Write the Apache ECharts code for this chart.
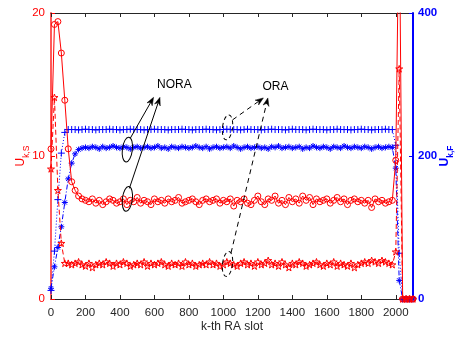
<!DOCTYPE html>
<html>
<head>
<meta charset="utf-8">
<script src="https://cdn.jsdelivr.net/npm/echarts@6/dist/echarts.min.js"></script>
<style>
  html, body { margin: 0; padding: 0; background: #fff; }
  #chart { width: 459px; height: 337px; }
</style>
</head>
<body>
<div id="chart"></div>
<script>
// RA slot index (x axis)
const slots = [0,20,40,60,80,100,120,140,160,180,200,220,240,260,280,300,320,340,360,380,
  400,420,440,460,480,500,520,540,560,580,600,620,640,660,680,700,720,740,760,780,
  800,820,840,860,880,900,920,940,960,980,1000,1020,1040,1060,1080,1100,1120,1140,1160,1180,
  1200,1220,1240,1260,1280,1300,1320,1340,1360,1380,1400,1420,1440,1460,1480,1500,1520,1540,1560,1580,
  1600,1620,1640,1660,1680,1700,1720,1740,1760,1780,1800,1820,1840,1860,1880,1900,1920,1940,1960,1980,
  2000,2020,2040,2060,2080,2100];

// U_k,S under NORA (circles, left axis)
const noraS = [10.5,19.2,19.4,17.2,13.9,10.5,8.2,7.6,7.2,7.0,
  6.9,6.8,7.0,6.7,6.9,6.6,6.8,7.0,6.9,6.7,
  6.8,7.0,6.6,6.9,6.8,7.1,6.7,6.9,6.8,6.6,
  7.0,6.8,6.9,6.7,7.0,6.8,6.9,7.1,6.7,6.8,
  6.9,7.0,6.8,6.6,6.9,7.0,6.8,6.9,7.0,6.7,
  6.9,6.8,7.0,6.5,6.9,6.8,7.0,6.7,6.6,6.9,
  7.2,6.8,6.6,7.0,6.9,7.2,6.7,6.9,6.6,7.1,
  6.8,7.0,6.7,7.2,6.9,7.1,6.6,7.0,6.8,6.9,
  7.0,6.7,6.9,7.1,6.8,7.0,6.6,6.9,7.0,6.8,
  6.9,6.7,6.9,6.4,7.0,6.8,6.9,6.7,6.8,6.9,
  9.7,28,0,0,0,0];

// U_k,S under ORA (pentagrams, left axis)
const oraS = [9.1,14.1,7.6,3.9,2.5,
  2.5,2.4,2.5,2.6,2.4,2.3,2.5,2.2,2.4,2.5,
  2.4,2.6,2.5,2.3,2.5,2.4,2.6,2.5,2.3,2.4,
  2.5,2.4,2.6,2.3,2.5,2.4,2.5,2.6,2.4,2.3,
  2.5,2.4,2.5,2.3,2.6,2.4,2.5,2.3,2.4,2.5,
  2.4,2.6,2.4,2.5,2.3,2.4,2.6,2.5,2.4,2.3,
  2.5,2.6,2.4,2.5,2.3,2.6,2.4,2.5,2.7,2.4,
  2.5,2.3,2.6,2.4,2.2,2.5,2.4,2.6,2.5,2.3,
  2.4,2.5,2.6,2.4,2.3,2.5,2.4,2.6,2.3,2.5,
  2.4,2.3,2.5,2.2,2.4,2.5,2.6,2.5,2.7,2.6,
  2.5,2.7,2.6,2.5,2.4,
  3.3,16.1,0,0,0,0];

// U_k,F under ORA (plus markers, right axis)
const oraF = [12,67,139,204,233,237,
  237,237,236.5,237,237.5,237,237,236.5,237,237,
  237,237.5,237,237,236.5,237,237,237.5,237,237,
  237,236.5,237,237,237.5,237,237,237,236.5,237,
  237,237,237.5,237,237,236.5,237,237,237,237.5,
  237,237,236.5,237,237,237.5,237,237,237,236.5,
  237,237.5,237,237,237,236.5,237,237,237.5,237,
  237,237,236.5,237,237.5,237,237,237,236.5,237,
  237.5,237,237,237,236.5,237,237,237.5,237,237,
  237,236.5,237,237,237.5,237,237,236.5,237,237,
  237,237.5,237,237,
  215,64,0,0,0,0];

// U_k,F under NORA (asterisks, right axis)
const noraF = [15,45,72,101,135,168,190,203,209,211,
  212,211,213,212,210,213,211,212,214,212,
  211,213,212,210,212,213,211,212,213,211,
  212,214,211,212,210,213,212,211,213,212,
  211,212,214,212,211,213,210,212,213,211,
  212,213,211,214,212,210,212,213,211,212,
  213,211,212,210,213,212,214,211,212,213,
  211,212,213,210,212,211,214,212,211,213,
  212,210,213,212,211,214,212,211,213,212,
  211,213,212,210,212,213,211,212,213,212,
  183,26,0,0,0,0];

const xTicks = [0,200,400,600,800,1000,1200,1400,1600,1800,2000];
const leftTicks = [0,10,20];
const rightTicks = [0,200,400];

const RED = '#ff0000';
const BLUE = '#0000ff';
const INK = '#262626';
const FONT = 'Liberation Sans, Arial, Helvetica, sans-serif';

const pairs = (ys) => slots.map((x, i) => [x, ys[i]]);
const plain = (v) => String(v);

const STAR = 'path://M5,0.3L6.123,3.755L9.755,3.755L6.817,5.89L7.939,9.345L5,7.21L2.061,9.345L3.183,5.89L0.245,3.755L3.877,3.755Z';
const PLUS = 'path://M5,0L5,10M0,5L10,5';
const ASTER = 'path://M5,0L5,10M0,5L10,5M1.5,1.5L8.5,8.5M8.5,1.5L1.5,8.5';

const chart = echarts.init(document.getElementById('chart'), null, { renderer: 'canvas' });

function markerStyle(color) {
  return { color: 'rgba(0,0,0,0)', borderColor: color, borderWidth: 1 };
}

const option = {
  animation: false,
  backgroundColor: '#fff',
  textStyle: { fontFamily: FONT },
  grid: { left: 51, right: 46, top: 13, bottom: 38, outerBoundsMode: 'none' },
  xAxis: [
    {
      type: 'value', position: 'bottom', min: 0, max: 2100, interval: 200,
      name: 'k-th RA slot', nameLocation: 'middle', nameGap: 22, nameMoveOverlap: false,
      nameTextStyle: { fontSize: 12, color: INK, fontFamily: FONT },
      axisLine: { show: true, onZero: false, lineStyle: { color: INK, width: 1 } },
      axisTick: { show: true, inside: true, length: 4, lineStyle: { color: INK }, customValues: xTicks },
      axisLabel: { show: true, fontSize: 11.5, color: INK, margin: 8, fontFamily: FONT, customValues: xTicks, formatter: plain },
      splitLine: { show: false }
    },
    {
      type: 'value', position: 'top', min: 0, max: 2100, interval: 200,
      axisLine: { show: true, onZero: false, lineStyle: { color: INK, width: 1 } },
      axisTick: { show: true, inside: true, length: 4, lineStyle: { color: INK }, customValues: xTicks },
      axisLabel: { show: false },
      splitLine: { show: false }
    }
  ],
  yAxis: [
    {
      type: 'value', position: 'left', min: 0, max: 20, interval: 10,
      name: '{u|U}{s|k,S}', nameLocation: 'middle', nameRotate: 90, nameGap: 20, nameMoveOverlap: false,
      nameTextStyle: {
        rich: {
          u: { fontSize: 12, color: RED, fontFamily: FONT, lineHeight: 12, padding: [0, 0, 8, 0] },
          s: { fontSize: 8.5, color: RED, fontFamily: FONT, lineHeight: 8, verticalAlign: 'bottom' }
        }
      },
      axisLine: { show: true, onZero: false, lineStyle: { color: '#ff5a5a', width: 2 } },
      axisTick: { show: true, inside: true, length: 4, lineStyle: { color: RED }, customValues: leftTicks },
      axisLabel: { show: true, fontSize: 11.5, color: RED, margin: 6, fontFamily: FONT, customValues: leftTicks, formatter: plain },
      splitLine: { show: false }
    },
    {
      type: 'value', position: 'right', min: 0, max: 400, interval: 200,
      name: '{u|U}{s|k,F}', nameLocation: 'middle', nameRotate: 90, nameGap: 30, nameMoveOverlap: false,
      nameTextStyle: {
        rich: {
          u: { fontSize: 12, color: BLUE, fontWeight: 'bold', fontFamily: FONT, lineHeight: 12, padding: [0, 0, 8, 0] },
          s: { fontSize: 8.5, color: BLUE, fontWeight: 'bold', fontFamily: FONT, lineHeight: 8, verticalAlign: 'bottom' }
        }
      },
      axisLine: { show: true, onZero: false, lineStyle: { color: BLUE, width: 2 } },
      axisTick: { show: true, inside: true, length: 4, lineStyle: { color: BLUE }, customValues: rightTicks },
      axisLabel: { show: true, fontSize: 11.5, color: BLUE, fontWeight: 'bold', margin: 5, fontFamily: FONT, customValues: rightTicks, formatter: plain },
      splitLine: { show: false }
    }
  ],
  series: [
    {
      name: 'NORA U_k,S', type: 'line', xAxisIndex: 0, yAxisIndex: 0,
      data: pairs(noraS), showAllSymbol: true, symbol: 'circle', symbolSize: 6,
      itemStyle: markerStyle(RED),
      lineStyle: { color: RED, width: 1 }, clip: true, z: 3
    },
    {
      name: 'ORA U_k,S', type: 'line', xAxisIndex: 0, yAxisIndex: 0,
      data: pairs(oraS), showAllSymbol: true, symbol: STAR, symbolSize: 7, symbolKeepAspect: true,
      itemStyle: markerStyle(RED),
      lineStyle: { color: RED, width: 1, type: [5, 3] }, clip: true, z: 3
    },
    {
      name: 'ORA U_k,F', type: 'line', xAxisIndex: 0, yAxisIndex: 1,
      data: pairs(oraF), showAllSymbol: true, symbol: PLUS, symbolSize: 7, symbolKeepAspect: true,
      itemStyle: markerStyle(BLUE),
      lineStyle: { color: BLUE, width: 1, type: [1, 2] }, clip: true, z: 2
    },
    {
      name: 'NORA U_k,F', type: 'line', xAxisIndex: 0, yAxisIndex: 1,
      data: pairs(noraF), showAllSymbol: true, symbol: ASTER, symbolSize: 6, symbolKeepAspect: true,
      itemStyle: markerStyle(BLUE),
      lineStyle: { color: BLUE, width: 1, type: [5, 2, 1, 2] }, clip: true, z: 2
    }
  ]
};

chart.setOption(option);

// ---- Annotations: ellipses around the traces with arrows to the scheme labels ----
function toPx(slot, val, axis) {
  return chart.convertToPixel({ xAxisIndex: 0, yAxisIndex: axis }, [slot, val]);
}

const notes = [
  { label: 'NORA', at: [615, 15.0], dashed: false,
    rings: [ { c: [443, 209, 1], tail: [3, -11.5], tip: [595, 14.1] },
             { c: [443, 7.0, 0], tail: [2, -10.5], tip: [632, 14.1] } ] },
  { label: 'ORA', at: [1227, 14.85], dashed: true,
    rings: [ { c: [1024, 240, 1], tail: [5, -7.5], tip: [1232, 14.06] },
             { c: [1024, 2.45, 0], tail: [3.5, -11], tip: [1258, 14.06] } ] }
];

function arrowParts(tail, tip, dashed) {
  const dx = tip[0] - tail[0], dy = tip[1] - tail[1];
  const len = Math.hypot(dx, dy);
  const ux = dx / len, uy = dy / len;
  const nx = -uy, ny = ux;
  const L = 8, W = 3, notch = 2.5;
  const back = [tip[0] - L * ux, tip[1] - L * uy];
  const mid = [tip[0] - (L - notch) * ux, tip[1] - (L - notch) * uy];
  return [
    { type: 'line', shape: { x1: tail[0], y1: tail[1], x2: mid[0], y2: mid[1] },
      style: { stroke: '#000', lineWidth: 1, lineDash: dashed ? [5, 4] : null }, z: 10 },
    { type: 'polygon', shape: { points: [tip, [back[0] + W * nx, back[1] + W * ny], mid, [back[0] - W * nx, back[1] - W * ny]] },
      style: { fill: '#000', stroke: '#000', lineWidth: 0.5 }, z: 10 }
  ];
}

const elements = [];
notes.forEach((n) => {
  const tp = toPx(n.at[0], n.at[1], 0);
  elements.push({ type: 'text', x: tp[0], y: tp[1], z: 10,
    style: { text: n.label, fill: '#000', font: '12px ' + FONT, textAlign: 'left', textVerticalAlign: 'middle' } });
  n.rings.forEach((r) => {
    const c = toPx(r.c[0], r.c[1], r.c[2]);
    elements.push({ type: 'ellipse', x: c[0], y: c[1], rotation: -0.12, z: 10,
      shape: { cx: 0, cy: 0, rx: 5, ry: 12.5 },
      style: { fill: 'none', stroke: '#000', lineWidth: 1, lineDash: n.dashed ? [4, 3] : null } });
    const tail = [c[0] + r.tail[0], c[1] + r.tail[1]];
    const tip = toPx(r.tip[0], r.tip[1], 0);
    arrowParts(tail, tip, n.dashed).forEach((e) => elements.push(e));
  });
});

chart.setOption({ graphic: { elements: elements } });
</script>
</body>
</html>
